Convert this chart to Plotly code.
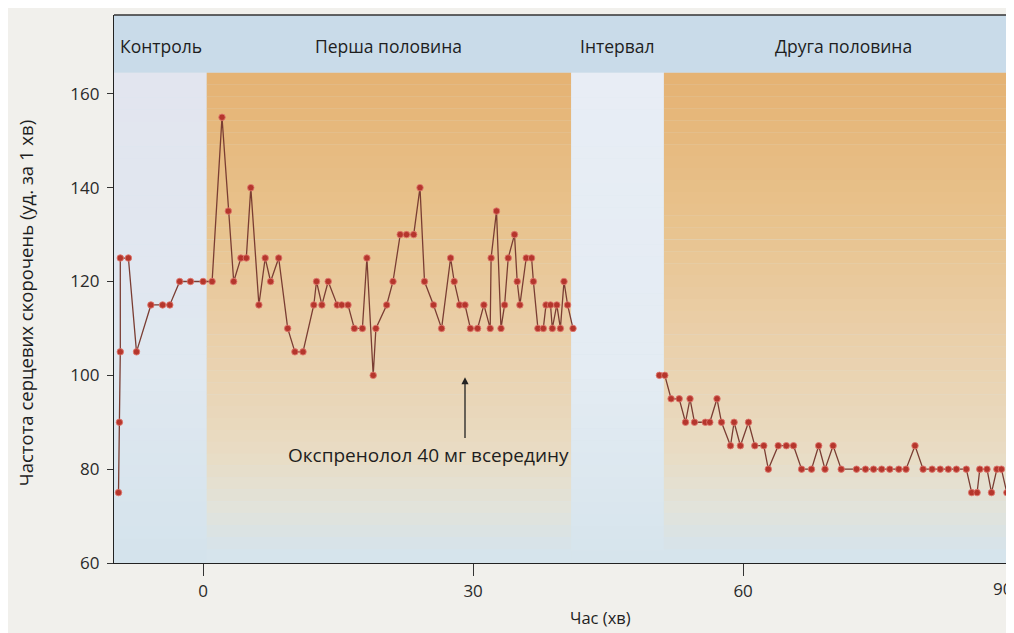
import plotly.graph_objects as go

# ---------------- data ----------------
control_min = [-9.4, -9.3, -9.2, -9.2, -8.3, -7.4, -5.8, -4.5, -3.7, -2.6, -1.4, 0.0, 1.0]
control_bpm = [75, 90, 105, 125, 125, 105, 115, 115, 115, 120, 120, 120, 120]

first_min = [2.1, 2.8, 3.4, 4.2, 4.8, 5.3, 6.2, 6.9, 7.5, 8.4,
             9.4, 10.2, 11.1, 12.3, 12.6, 13.2, 13.9, 14.9, 15.4, 16.1,
             16.8, 17.7, 18.2, 18.9, 19.2, 20.4, 21.1, 21.9, 22.6, 23.4,
             24.1, 24.6, 25.6, 26.5, 27.5, 27.9, 28.5, 29.1, 29.7, 30.5,
             31.2, 31.9, 32.0, 32.6, 33.1, 33.5, 33.9, 34.6, 34.9, 35.2,
             35.9, 36.5, 36.7, 37.2, 37.8, 38.1, 38.6, 38.8, 39.3, 39.7,
             40.1, 40.5, 41.1]
first_bpm = [155, 135, 120, 125, 125, 140, 115, 125, 120, 125,
             110, 105, 105, 115, 120, 115, 120, 115, 115, 115,
             110, 110, 125, 100, 110, 115, 120, 130, 130, 130,
             140, 120, 115, 110, 125, 120, 115, 115, 110, 110,
             115, 110, 125, 135, 110, 115, 125, 130, 120, 115,
             125, 125, 120, 110, 110, 115, 115, 110, 115, 110,
             120, 115, 110]

second_min = [50.7, 51.3, 52.0, 52.9, 53.6, 54.1, 54.6, 55.8, 56.3, 57.1,
              57.6, 58.6, 59.0, 59.7, 60.6, 61.3, 62.3, 62.8, 63.9, 64.8,
              65.6, 66.5, 67.6, 68.4, 69.1, 70.0, 70.9, 72.6, 73.6, 74.5,
              75.4, 76.3, 77.3, 78.1, 79.1, 80.0, 81.0, 81.9, 82.8, 83.7,
              84.8, 85.4, 86.0, 86.3, 87.1, 87.6, 88.2, 88.7, 89.3, 89.7]
second_bpm = [100, 100, 95, 95, 90, 95, 90, 90, 90, 95,
              90, 85, 90, 85, 90, 85, 85, 80, 85, 85,
              85, 80, 80, 85, 80, 85, 80, 80, 80, 80,
              80, 80, 80, 80, 85, 80, 80, 80, 80, 80,
              80, 75, 75, 80, 80, 75, 80, 80, 75, 75]

phase_labels = ["Контроль", "Перша половина", "Інтервал", "Друга половина"]
phase_label_x = [-9.5, 12.2, 41.7, 63.3]
phase_edges = [0.4, 40.9, 51.2]          # start of drug, start/end of interval
x_ticks = [0, 30, 60, 90]
x_ticktext = ["0", "30", "60", ""]       # the 90 label is drawn nudged left (it sits at the page edge)
edge_tick_label = "90"
y_ticks = [60, 80, 100, 120, 140, 160]
annotation_text = "Окспренолол 40 мг всередину"
y_title = "Частота серцевих скорочень (уд. за 1 хв)"
x_title = "Час (хв)"

# ---------------- geometry / style ----------------
X0, X1 = -9.9, 90.1
Y0, Y1 = 60, 176.8
HEADER_Y = 164.5
FONT = "Open Sans, Noto Sans, sans-serif"


def hex2rgb(h):
    h = h.lstrip("#")
    return tuple(int(h[i:i + 2], 16) for i in (0, 2, 4))


def interp_color(stops, t):
    for (t0, c0), (t1, c1) in zip(stops[:-1], stops[1:]):
        if t0 <= t <= t1:
            f = 0 if t1 == t0 else (t - t0) / (t1 - t0)
            a, b = hex2rgb(c0), hex2rgb(c1)
            return "rgb(%d,%d,%d)" % tuple(round(a[i] + (b[i] - a[i]) * f) for i in range(3))
    return stops[-1][1]


def gradient_rect(x_a, x_b, y_top, y_bot, stops, n=40):
    shapes = []
    h = (y_top - y_bot) / n
    for i in range(n):
        yt = y_top - i * h
        shapes.append(dict(type="rect", xref="x", yref="y", x0=x_a, x1=x_b,
                           y0=yt - h - 0.05, y1=yt, line=dict(width=0),
                           fillcolor=interp_color(stops, (i + 0.5) / n), layer="below"))
    return shapes


orange_stops = [(0, "#e5b273"), (0.3, "#e8c28c"), (0.55, "#eacfa9"),
                (0.8, "#e9dcc4"), (0.92, "#e1e3db"), (1, "#d6e3ea")]
pale_stops = [(0, "#e2e5ef"), (0.6, "#e0e8f0"), (1, "#d4e3ec")]
interval_stops = [(0, "#e8edf5"), (0.6, "#e4ecf3"), (1, "#d6e4ec")]

shapes = []
shapes.append(dict(type="rect", xref="x", yref="y", x0=X0, x1=X1, y0=HEADER_Y, y1=Y1,
                   line=dict(width=0), fillcolor="#c9dbe9", layer="below"))
shapes += gradient_rect(X0, phase_edges[0], HEADER_Y, Y0, pale_stops)
shapes += gradient_rect(phase_edges[0], phase_edges[1], HEADER_Y, 63, orange_stops)
shapes += gradient_rect(phase_edges[1], phase_edges[2], HEADER_Y, Y0, interval_stops)
shapes += gradient_rect(phase_edges[2], X1, HEADER_Y, 63, orange_stops)
shapes.append(dict(type="line", xref="paper", yref="paper", x0=0, x1=1, y0=1, y1=1,
                   line=dict(color="#333333", width=1.5)))

line_style = dict(color="#7a3d33", width=1.3)
marker_style = dict(size=6.5, color="#b5362c", line=dict(color="rgba(225,120,110,0.85)", width=1))

fig = go.Figure()
fig.add_trace(go.Scatter(x=control_min + first_min, y=control_bpm + first_bpm,
                         mode="lines+markers", line=line_style, marker=marker_style,
                         cliponaxis=False, showlegend=False))
fig.add_trace(go.Scatter(x=second_min, y=second_bpm,
                         mode="lines+markers", line=line_style, marker=marker_style,
                         cliponaxis=False, showlegend=False))

annotations = []
for lbl, lx in zip(phase_labels, phase_label_x):
    annotations.append(dict(x=lx, y=170.2, xref="x", yref="y", text=lbl, showarrow=False,
                            xanchor="left", yanchor="middle",
                            font=dict(family=FONT, size=17.5, color="#1e1e1e")))
annotations.append(dict(x=29.1, y=99.6, ax=29.1, ay=86.3, xref="x", yref="y",
                        axref="x", ayref="y", text="", showarrow=True, arrowhead=2,
                        arrowsize=1.1, arrowwidth=1.3, arrowcolor="#222222"))
annotations.append(dict(x=25.0, y=83.0, xref="x", yref="y", text=annotation_text,
                        showarrow=False, xanchor="center", yanchor="middle",
                        font=dict(family=FONT, size=19, color="#1e1e1e")))
annotations.append(dict(x=-0.099, y=0.474, xref="paper", yref="paper", text=y_title,
                        textangle=-90, showarrow=False, xanchor="center", yanchor="middle",
                        font=dict(family=FONT, size=18.5, color="#1e1e1e")))
annotations.append(dict(x=0.54, y=-0.100, xref="paper", yref="paper", text=x_title,
                        showarrow=False, xanchor="center", yanchor="middle",
                        font=dict(family=FONT, size=16.5, color="#1e1e1e")))
annotations.append(dict(x=x_ticks[-1], y=0, xref="x", yref="paper", text=edge_tick_label,
                        showarrow=False, xanchor="right", yanchor="top", xshift=1, yshift=-12,
                        font=dict(family=FONT, size=17, color="#2a2a2a")))

# page has an 8px body margin: figure is 8px smaller so the plot lands where the reference has it
fig.update_layout(
    width=1006, height=625,
    margin=dict(l=106, r=0, t=7, b=70, autoexpand=False),
    paper_bgcolor="#f1f0ec",
    plot_bgcolor="#d6e4ec",
    shapes=shapes,
    annotations=annotations,
    xaxis=dict(range=[X0, X1], tickvals=x_ticks, ticktext=x_ticktext,
               automargin=False,
               showgrid=False, zeroline=False, showline=True, linecolor="#222222",
               linewidth=1.3, ticks="outside", ticklen=12, tickcolor="#333333",
               tickfont=dict(family=FONT, size=17, color="#2a2a2a")),
    yaxis=dict(range=[Y0, Y1], tickvals=y_ticks, ticktext=[str(v) for v in y_ticks],
               automargin=False,
               showgrid=False, zeroline=False, showline=True, linecolor="#222222",
               linewidth=1.3, ticks="outside", ticklen=6, tickcolor="#333333",
               ticklabelstandoff=4,
               tickfont=dict(family=FONT, size=17, color="#2a2a2a")),
)

fig.write_html("out.html")
